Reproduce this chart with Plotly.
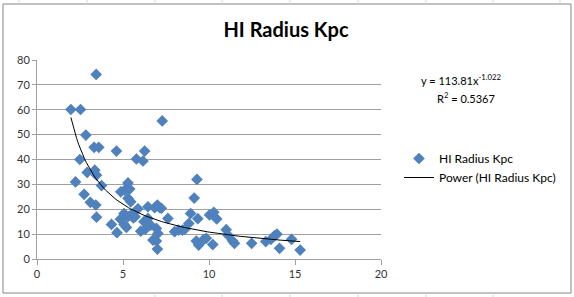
import plotly.graph_objects as go

# ---- data ----
hi_x = [1.97, 2.53, 3.44, 2.84, 3.32, 3.59, 2.49, 2.92, 3.36, 3.46, 2.24, 3.75, 2.74, 3.10, 3.42, 3.46,
        4.33, 4.65, 4.62, 4.87, 4.85,
        5.29, 5.10, 5.39, 5.29, 5.45, 5.06, 5.29, 5.06, 5.20, 5.50, 5.70, 5.87, 5.78, 6.03, 5.60,
        6.26, 6.16, 6.45, 6.22, 6.45, 6.61, 6.94, 7.03, 6.94, 7.00, 6.84, 7.00, 7.13, 6.74, 6.30,
        7.28, 7.23, 7.61, 8.00,
        8.23, 8.45, 8.60, 8.83, 8.93,
        9.30, 9.14, 9.35, 9.26, 9.40, 9.68, 9.84,
        10.03, 10.28, 10.45, 10.22, 11.00, 11.10,
        11.38, 11.48,
        12.48, 13.30, 13.60, 13.80, 13.95, 14.10, 14.80, 15.30]
hi_y = [60.1, 60.1, 74.2, 49.8, 44.9, 44.9, 40.0, 34.8, 35.7, 33.7, 31.0, 29.5, 26.0, 22.8, 21.7, 16.8,
        13.9, 10.6, 43.4, 27.0, 16.0,
        30.6, 27.7, 28.1, 24.4, 23.0, 18.3, 17.0, 13.9, 12.7, 18.0, 17.0, 20.2, 40.2, 11.2, 16.5,
        43.4, 39.4, 21.0, 15.0, 16.3, 13.6, 12.3, 10.3, 7.2, 4.0, 20.6, 21.7, 20.6, 7.6, 12.0,
        55.5, 20.4, 16.3, 11.0,
        11.6, 11.6, 12.0, 14.3, 18.3,
        32.0, 24.5, 16.2, 7.2, 5.6, 7.8, 8.3,
        17.7, 18.8, 16.1, 5.8, 11.8, 9.6,
        7.2, 6.3,
        6.3, 7.0, 7.9, 9.3, 10.0, 4.3, 7.9, 3.6]

series_name = "HI Radius Kpc"
trend_name = "Power (HI Radius Kpc)"
trend_a = 113.81       # coefficients shown on the chart
trend_b = -1.022
r_squared = "0.5367"
x_ticks = [0, 5, 10, 15, 20]
y_ticks = [0, 10, 20, 30, 40, 50, 60, 70, 80]

# trendline across the data range (Excel power trendline)
x_min, x_max = min(hi_x), max(hi_x)
n = 120
trend_x = [x_min + (x_max - x_min) * i / (n - 1) for i in range(n)]
trend_y = [trend_a * xv ** trend_b for xv in trend_x]

FONT = "Lato, 'Open Sans', sans-serif"
BLUE = "#4F81BD"
GRID = "#a0a0a0"

fig = go.Figure()
fig.add_trace(go.Scatter(
    x=hi_x, y=hi_y, mode="markers", name=series_name,
    marker=dict(symbol="diamond", size=9, color=BLUE, line=dict(width=0)),
))
fig.add_trace(go.Scatter(
    x=trend_x, y=trend_y, mode="lines", name=trend_name,
    line=dict(color="#000000", width=1),
))

W, H = 574, 297
L, R, T, B = 37, 193, 60, 38
pw, ph = W - L - R, H - T - B

def px(x):
    return (x - L) / pw

def py(y):
    return (H - B - y) / ph

shapes = [
    # chart border
    dict(type="rect", xref="paper", yref="paper",
         x0=px(3), x1=px(571), y0=py(293), y1=py(4),
         line=dict(color="#858585", width=1), layer="below"),
]
# spreadsheet cell lines peeking outside the chart
for cx in [155, 222, 290, 358, 426, 493]:
    shapes.append(dict(type="line", xref="paper", yref="paper",
                       x0=px(cx), x1=px(cx), y0=py(297), y1=py(293.5),
                       line=dict(color="#d9d9d9", width=1)))
for cx in [19, 87, 155, 222, 290, 358, 426, 493, 560]:
    shapes.append(dict(type="line", xref="paper", yref="paper",
                       x0=px(cx), x1=px(cx), y0=py(3.5), y1=py(0),
                       line=dict(color="#d9d9d9", width=1)))

fig.update_layout(
    width=W, height=H,
    margin=dict(l=L, r=R, t=T, b=B, pad=0),
    paper_bgcolor="white", plot_bgcolor="white",
    font=dict(family=FONT, size=11, color="#333333"),
    title=dict(text="<b>HI Radius Kpc</b>", x=286 / W, xanchor="center",
               xref="container", yref="container",
               y=1 - 30 / H, yanchor="middle",
               font=dict(family=FONT, size=20, color="#000000")),
    xaxis=dict(range=[0, 20], tickvals=x_ticks, showgrid=False, zeroline=False,
               showline=True, linecolor=GRID, linewidth=1,
               ticks="outside", ticklen=5, tickcolor=GRID,
               tickfont=dict(size=11, color="#333333")),
    yaxis=dict(range=[0, 80], tickvals=y_ticks, showgrid=True, gridcolor=GRID, gridwidth=1,
               zeroline=False, showline=True, linecolor=GRID, linewidth=1,
               ticks="outside", ticklen=4, tickcolor=GRID,
               tickfont=dict(size=11, color="#333333")),
    showlegend=True,
    legend=dict(x=px(399), y=py(144), xanchor="left", yanchor="top",
                itemwidth=30, font=dict(family=FONT, size=12, color="#000000"),
                bgcolor="rgba(0,0,0,0)", tracegroupgap=0),
    shapes=shapes,
    annotations=[
        dict(text="y = 113.81x<sup>-1.022</sup>", xref="paper", yref="paper",
             x=px(461), y=py(79), xanchor="center", yanchor="middle", showarrow=False,
             font=dict(family=FONT, size=11, color="#000000")),
        dict(text="R<sup>2</sup> = " + r_squared, xref="paper", yref="paper",
             x=px(466), y=py(97), xanchor="center", yanchor="middle", showarrow=False,
             font=dict(family=FONT, size=11, color="#000000")),
    ],
)

fig.write_html("out.html", config={"displayModeBar": False},
               post_script="document.body.style.margin='0';")
